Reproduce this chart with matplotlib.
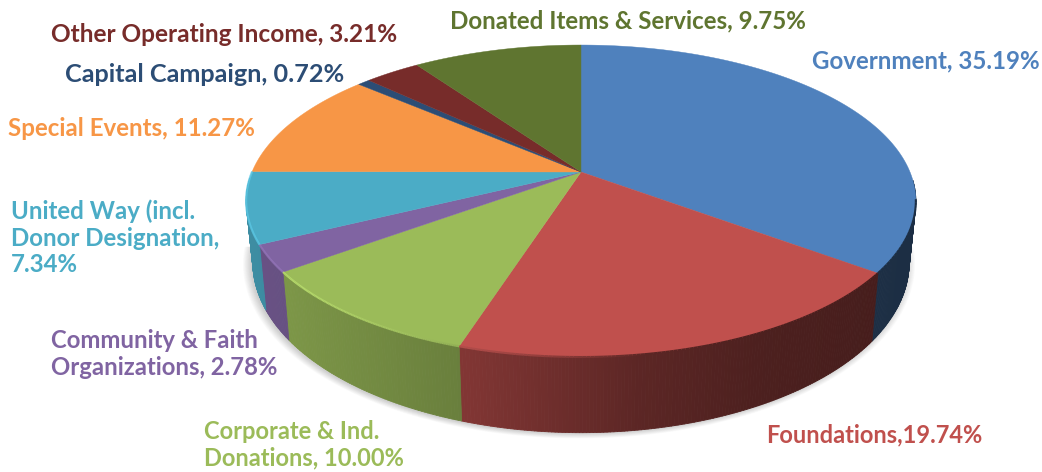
"""3D pie of revenue sources, drawn as projected polygons."""

import numpy as np
from matplotlib import pyplot as plt
from matplotlib.collections import LineCollection, PolyCollection

categories = ['Government', 'Foundations', 'Corporate & Ind. Donations',
              'Community & Faith Organizations', 'United Way (incl. Donor Designation',
              'Special Events', 'Capital Campaign', 'Other Operating Income',
              'Donated Items & Services']
shares = [35.19, 19.74, 10.00, 2.78, 7.34, 11.27, 0.72, 3.21, 9.75]
label_texts = ['Government, 35.19%', 'Foundations,19.74%', 'Corporate & Ind.\nDonations, 10.00%',
               'Community & Faith\nOrganizations, 2.78%', 'United Way (incl.\nDonor Designation,\n7.34%',
               'Special Events, 11.27%', 'Capital Campaign, 0.72%', 'Other Operating Income, 3.21%',
               'Donated Items & Services, 9.75%']

colors = ['#4F81BD', '#C0504D', '#9BBB59', '#8064A2', '#4BACC6',
          '#F79646', '#2C4D75', '#772C2A', '#5F7530']
label_pos = [(812, 61), (766, 435), (204, 445), (51, 354), (11, 238),
             (8, 129), (65, 74), (51, 34), (450, 21)]
label_sizes = [17.4, 17.0, 17.0, 17.2, 17.3, 17.4, 18.2, 17.6, 17.4]

# projection of the unit disc onto the picture
CX, CY = 581.0, 172.0
A, B, K = 329.0, 150.6, 0.186


def top_rim(theta):
    """Rim point of the top face, theta clockwise from 12 o'clock in radians."""
    u, v = np.sin(theta), np.cos(theta)
    d = 1 + K * v
    return CX + A * u / d, CY - B * v / d


def low_rim(theta):
    x, y = top_rim(theta)
    return CX + 0.98 * (x - CX), CY + 59 + 1.09 * (y - CY)


def shade(x):
    """Brightness of the side wall, darker towards the right."""
    return np.interp(x, [250, 290, 460, 640, 760, 900], [0.82, 0.80, 0.68, 0.48, 0.40, 0.36])


def rgb(color):
    c = color.lstrip('#')
    return np.array([int(c[i:i + 2], 16) for i in (0, 2, 4)]) / 255


plt.rcParams['font.family'] = ['Lato', 'DejaVu Sans']

fig = plt.figure(figsize=(10.42, 4.72), dpi=100)
ax = fig.add_axes([0, 0, 1, 1])
ax.set_xlim(0, 1042)
ax.set_ylim(472, 0)
ax.axis('off')

# soft shadow under the disc
full = np.linspace(np.radians(95), np.radians(265), 181)
lx, ly = low_rim(full)
for i in range(12):
    s = 1 + 0.0022 * i
    ax.fill(CX + s * (lx - CX) - 2, CY + 60 + s * (ly - CY - 60) + 1.0,
            color='black', alpha=0.016, lw=0, zorder=1)

edges = np.radians(np.concatenate([[0], np.cumsum(shares)]) * 3.6)

# side walls first, top faces go over them; only the front part of the rim shows
for start, stop, col in zip(edges[:-1], edges[1:], colors):
    n = max(int(np.degrees(stop - start) * 2), 2)
    th = np.linspace(start, stop, n + 1)
    tx, ty = top_rim(th)
    bx, by = low_rim(th)
    polys, face = [], []
    for j in range(n):
        if np.cos(th[j]) > -0.05:
            continue
        polys.append([(tx[j], ty[j]), (tx[j + 1], ty[j + 1]), (bx[j + 1], by[j + 1]), (bx[j], by[j])])
        face.append(np.clip(rgb(col) * shade(tx[j]), 0, 1))
    if polys:
        ax.add_collection(PolyCollection(polys, facecolors=face, edgecolors=face, linewidths=0.6, zorder=2))

for start, stop, col in zip(edges[:-1], edges[1:], colors):
    th = np.linspace(start, stop, 120)
    tx, ty = top_rim(th)
    ax.fill(np.r_[CX, tx], np.r_[CY, ty], color=col, lw=0.3, zorder=3)

    # bevel along the front rim: light on the left, dark and soft on the right
    segs, seg_cols = [], []
    for j in range(len(th) - 1):
        limit = -0.17 if np.sin(th[j]) > 0 else 0.0
        if np.cos(th[j]) > limit:
            continue
        segs.append([(tx[j], ty[j]), (tx[j + 1], ty[j + 1])])
        t = np.clip((tx[j] - 300) / 350, 0, 1)
        light = np.clip(rgb(col) * 1.12 + 0.03, 0, 1)
        dark = rgb(col) * shade(tx[j])
        seg_cols.append(light * (1 - t) + dark * t)
    if segs:
        ax.add_collection(LineCollection(segs, colors=seg_cols, linewidths=1.5, zorder=4))

for text, pos, col, size in zip(label_texts, label_pos, colors, label_sizes):
    ax.text(pos[0], pos[1], text, color=col, fontsize=size, fontweight='bold',
            ha='left', va='center', linespacing=1.18, zorder=5)

fig.savefig('out.png', dpi=100)
